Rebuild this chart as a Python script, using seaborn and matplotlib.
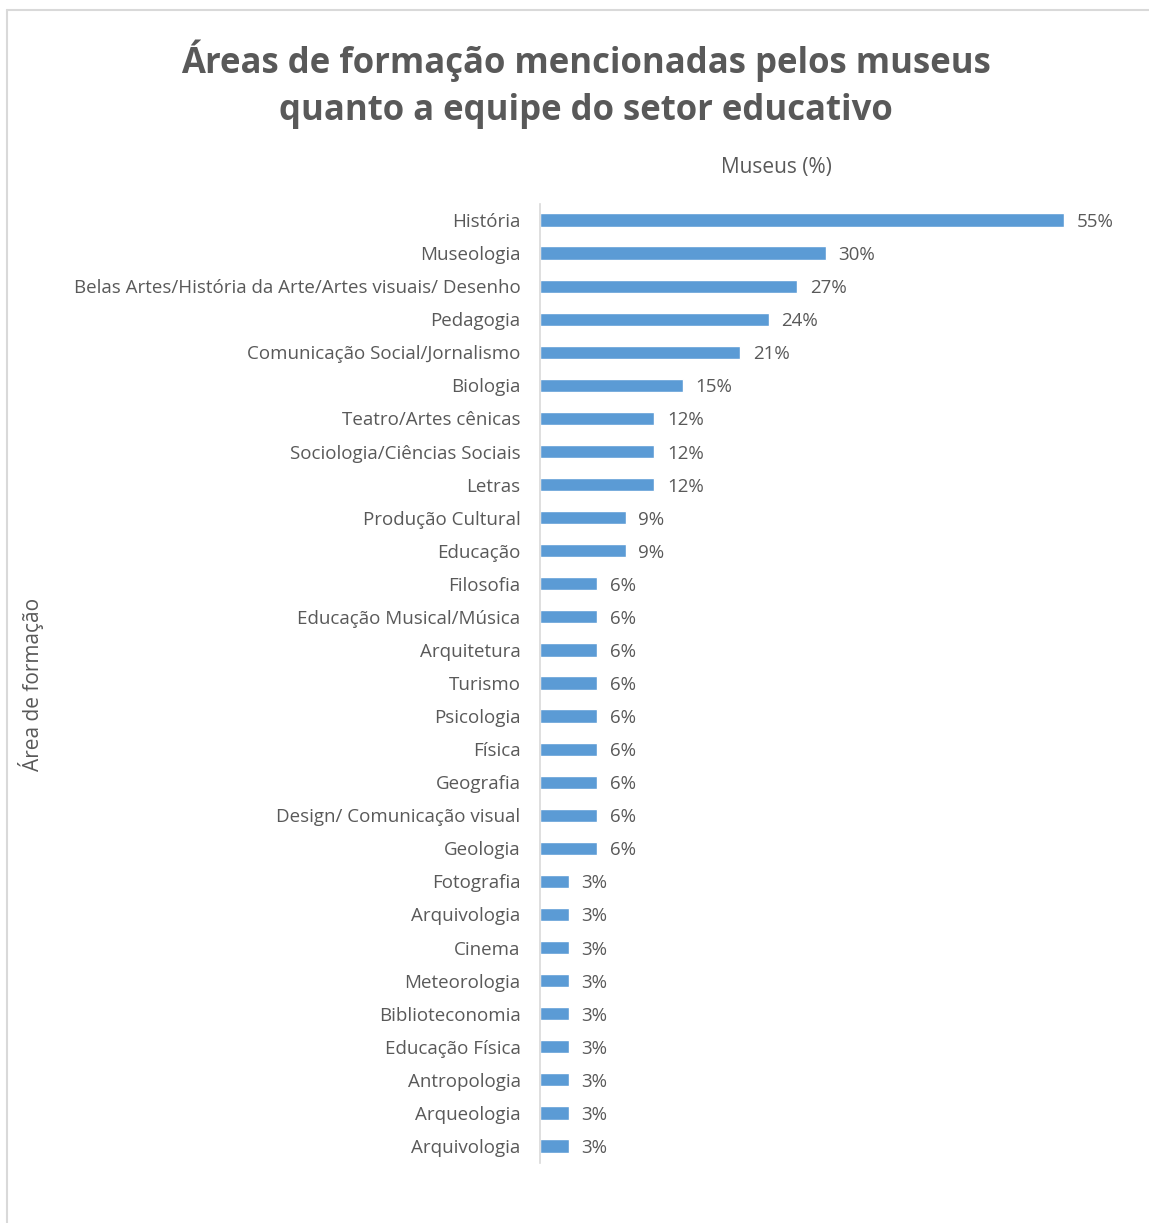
import matplotlib
matplotlib.use("Agg")
import matplotlib.pyplot as plt
import seaborn as sns
import pandas as pd
from matplotlib.lines import Line2D

categories = [
    "História", "Museologia", "Belas Artes/História da Arte/Artes visuais/ Desenho",
    "Pedagogia", "Comunicação Social/Jornalismo", "Biologia", "Teatro/Artes cênicas",
    "Sociologia/Ciências Sociais", "Letras", "Produção Cultural", "Educação",
    "Filosofia", "Educação Musical/Música", "Arquitetura", "Turismo", "Psicologia",
    "Física", "Geografia", "Design/ Comunicação visual", "Geologia", "Fotografia",
    "Arquivologia", "Cinema", "Meteorologia", "Biblioteconomia", "Educação Física",
    "Antropologia", "Arqueologia", "Arquivologia",
]
values = [55, 30, 27, 24, 21, 15, 12, 12, 12, 9, 9, 6, 6, 6, 6, 6, 6, 6, 6, 6,
          3, 3, 3, 3, 3, 3, 3, 3, 3]
value_labels = [f"{v}%" for v in values]

title = "Áreas de formação mencionadas pelos museus\nquanto a equipe do setor educativo"
x_title = "Museus (%)"
y_title = "Área de formação"

sns.set_theme(style="white")
plt.rcParams["font.family"] = ["Open Sans", "DejaVu Sans"]

TEXT = "#595959"
BAR = "#5B9BD5"

df = pd.DataFrame({"key": [str(i) for i in range(len(categories))],
                   "value": values})

W, H = 1149, 1223
fig = plt.figure(figsize=(W / 100, H / 100), dpi=100)
ax_left, ax_right = 540 / W, 1112 / W
ax_top, ax_bottom = 1 - 203.5 / H, 1 - 1162.5 / H
ax = fig.add_axes([ax_left, ax_bottom, ax_right - ax_left, ax_top - ax_bottom])

sns.barplot(data=df, x="value", y="key", orient="h", color=BAR, width=0.4,
            saturation=1, ax=ax)

ax.set_xlim(0, 60)
ax.set_ylim(len(categories) - 0.5, -0.5)
ax.set_xticks([])
ax.set_yticks(range(len(categories)))
ax.set_yticklabels(categories, fontsize=13.5, color=TEXT)
ax.tick_params(axis="y", length=0, pad=14)
ax.set_xlabel("")
ax.set_ylabel("")
for s in ["top", "right", "bottom"]:
    ax.spines[s].set_visible(False)
ax.spines["left"].set_color("#D9D9D9")
ax.spines["left"].set_linewidth(1.2)

for i, (v, lab) in enumerate(zip(values, value_labels)):
    ax.annotate(lab, xy=(v, i), xytext=(9, 0), textcoords="offset points",
                ha="left", va="center_baseline", fontsize=13.5, color=TEXT)

fig.text(586 / W, 1 - 84 / H, title, ha="center", va="center", fontsize=25,
         fontweight="bold", color=TEXT, linespacing=1.4)
fig.text(776 / W, 1 - 167 / H, x_title, ha="center", va="center",
         fontsize=15, color=TEXT)
fig.text(31 / W, 1 - 684 / H, y_title, ha="center", va="center",
         fontsize=15, color=TEXT, rotation=90)

# outer chart frame (left and top edges)
fig.add_artist(Line2D([7 / W, 7 / W], [0, 1 - 10 / H], transform=fig.transFigure,
                      color="#D9D9D9", lw=1.5))
fig.add_artist(Line2D([7 / W, 1], [1 - 10 / H, 1 - 10 / H], transform=fig.transFigure,
                      color="#D9D9D9", lw=1.5))

fig.savefig("out.png", dpi=100, facecolor="white")
